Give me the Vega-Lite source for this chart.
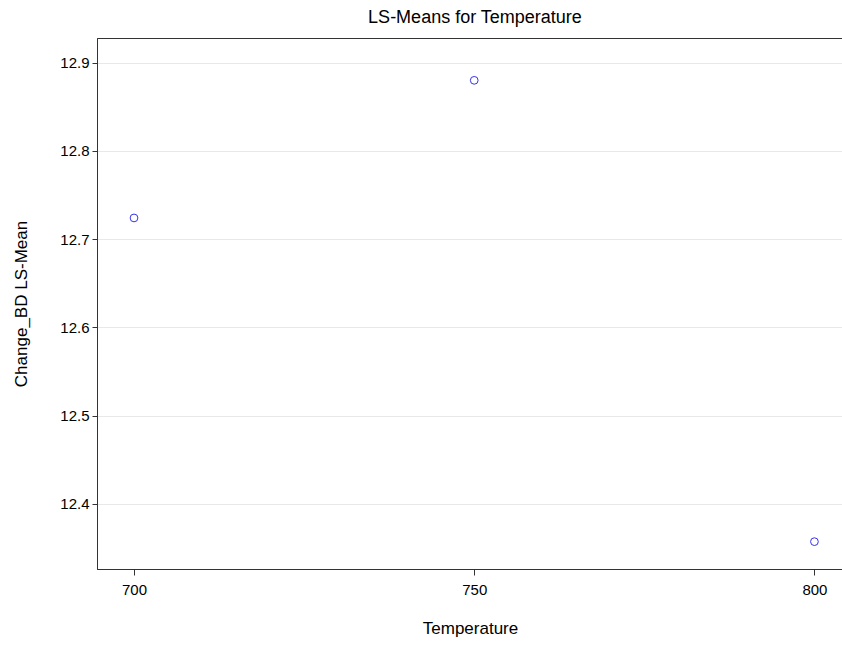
{
  "$schema": "https://vega.github.io/schema/vega-lite/v6.json",
  "autosize": {"type": "none"},
  "width": 746,
  "height": 531,
  "padding": {"left": 97, "top": 38, "right": 0, "bottom": 77},
  "background": "white",
  "title": {
    "text": "LS-Means for Temperature",
    "font": "Liberation Sans",
    "fontSize": 18,
    "fontWeight": "normal",
    "color": "black",
    "anchor": "middle",
    "offset": 11,
    "dx": 5
  },
  "config": {
    "view": {"stroke": "#333333", "strokeWidth": 1},
    "font": "Liberation Sans"
  },
  "data": {
    "values": [
      {"Temperature": 700, "LSMean": 12.724},
      {"Temperature": 750, "LSMean": 12.880},
      {"Temperature": 800, "LSMean": 12.357}
    ]
  },
  "mark": {"type": "point", "shape": "circle", "filled": false, "color": "#3333ee", "size": 60, "strokeWidth": 1, "opacity": 1},
  "encoding": {
    "x": {
      "field": "Temperature",
      "type": "quantitative",
      "scale": {"domain": [694.56, 804.2], "nice": false, "zero": false},
      "axis": {
        "values": [700, 750, 800],
        "grid": false,
        "title": "Temperature",
        "titleFont": "Liberation Sans",
        "titleFontSize": 17,
        "titleFontWeight": "normal",
        "titleColor": "black",
        "titlePadding": 23,
        "labelFont": "Liberation Sans",
        "labelFontSize": 15,
        "labelColor": "black",
        "labelPadding": 7,
        "tickSize": 6,
        "tickColor": "#333333",
        "domainColor": "#333333",
        "labelFlush": false
      }
    },
    "y": {
      "field": "LSMean",
      "type": "quantitative",
      "scale": {"domain": [12.326, 12.928], "nice": false, "zero": false},
      "axis": {
        "values": [12.4, 12.5, 12.6, 12.7, 12.8, 12.9],
        "format": ".1f",
        "grid": true,
        "gridColor": "#e8e8e8",
        "title": "Change_BD LS-Mean",
        "titleFont": "Liberation Sans",
        "titleFontSize": 17,
        "titleFontWeight": "normal",
        "titleColor": "black",
        "titlePadding": 29,
        "labelFont": "Liberation Sans",
        "labelFontSize": 15,
        "labelColor": "black",
        "labelPadding": 3,
        "tickSize": 5,
        "tickColor": "#333333",
        "domainColor": "#333333",
        "labelFlush": false
      }
    }
  }
}
